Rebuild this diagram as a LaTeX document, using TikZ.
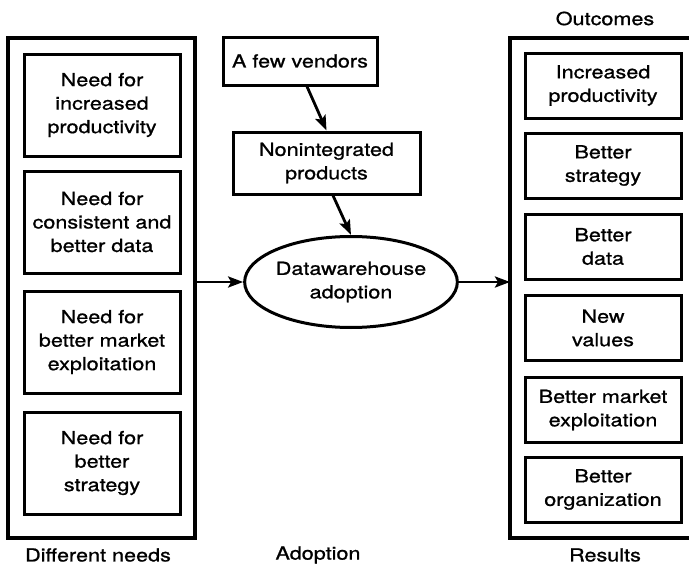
\documentclass[tikz,border=0pt]{standalone}
\usepackage{fontspec}
\setmainfont[FakeStretch=1.2,FakeBold=1]{TeX Gyre Heros}
\usetikzlibrary{arrows.meta,shapes.geometric}
\begin{document}
\begin{tikzpicture}[x=1pt,y=-1pt,
  every node/.style={font=\fontsize{18}{23.5}\selectfont, align=center, inner sep=0pt},
  frame/.style={draw, line width=3.3pt},
  item/.style={draw, line width=3pt, minimum width=156pt},
  need/.style={item, minimum height=102pt},
  result/.style={item, minimum height=65pt},
  flow/.style={line width=2.8pt, -{Stealth[length=15pt,width=11pt,inset=3pt]}},
  caption/.style={anchor=center}]
\useasboundingbox (0,0) rectangle (689,570);

% left column: needs
\node[frame, minimum width=187pt, minimum height=500pt] (needs) at (101.5,288) {};
\node[need] (n1) at (102,105) {Need for\\increased\\productivity};
\node[need] (n2) at (102,222) {Need for\\consistent and\\better data};
\node[need] (n3) at (102,342) {Need for\\better market\\exploitation};
\node[need] (n4) at (102,463) {Need for\\better\\strategy};
\node[caption] (lneeds) at (98,555) {Different needs};

% middle column: adoption
\node[draw, line width=3pt, minimum width=154pt, minimum height=48pt] (vend) at (300,61) {A few vendors};
\node[draw, line width=3pt, minimum width=187pt, minimum height=62pt] (nonint) at (326.5,163) {Nonintegrated\\products};
\node[draw, ellipse, line width=3pt, minimum width=176pt, minimum height=91pt] (dw) at (351,282) {Datawarehouse\\adoption};
\node[caption] (ladopt) at (318,555) {Adoption};

% right column: results (frame runs off the right edge)
\coordinate (rtl) at (510,38);
\coordinate (rbl) at (510,538);
\draw[line width=3.3pt] (692,38) -- (rtl) -- (rbl) -- (692,538);
\node[result] (r1) at (603,85.5) {Increased\\productivity};
\node[result] (r2) at (603,165.5) {Better\\strategy};
\node[result] (r3) at (603,246.5) {Better\\data};
\node[result] (r4) at (603,328) {New\\values};
\node[result] (r5) at (603,410) {Better market\\exploitation};
\node[result] (r6) at (603,489.5) {Better\\organization};
\node[caption] (lout) at (605,18.5) {Outcomes};
\node[caption] (lres) at (605,555) {Results};

% connectors
\draw[flow] ([xshift=7pt]vend.south) -- (nonint.north);
\draw[flow] ([xshift=6.5pt]nonint.south) -- (dw.north);
\draw[flow] (dw.west -| needs.east) -- (dw.west);
\draw[flow] (dw.east) -- (dw.east -| rtl);
\end{tikzpicture}
\end{document}
